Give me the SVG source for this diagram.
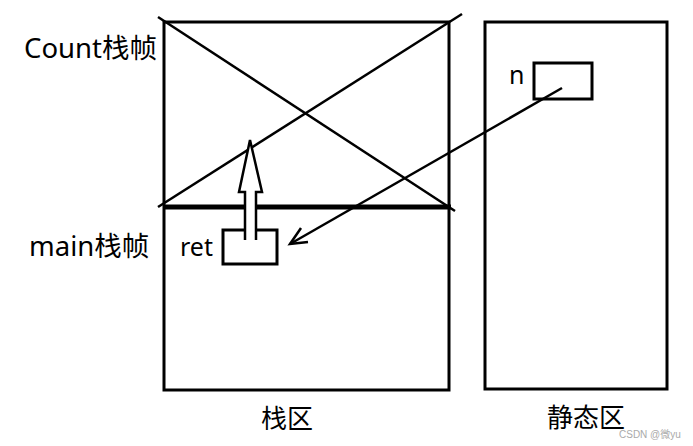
<svg xmlns="http://www.w3.org/2000/svg" width="693" height="446" viewBox="0 0 693 446">
<style>
.box{fill:none;stroke:#000;stroke-width:3}
.ln{stroke:#000;stroke-width:2.5;fill:none}
.lbl{font-family:"Noto Sans","Noto Sans CJK SC",sans-serif;font-size:26px;fill:#000}
.big{font-size:27.5px}
.wm{font-family:"Liberation Sans","Noto Sans CJK SC",sans-serif;font-size:10px;fill:#aaa}
</style>
<rect width="693" height="446" fill="#fff"/>
<g id="stack">
<rect class="box" x="164" y="22" width="285" height="368"/>
<text class="lbl" x="261" y="428">栈区</text>
</g>
<g id="count-frame">
<line class="ln" x1="158" y1="17" x2="455" y2="211"/>
<line class="ln" x1="462" y1="14" x2="158" y2="207"/>
<line x1="164" y1="207" x2="451" y2="207" stroke="#000" stroke-width="5"/>
<text class="lbl big" x="24" y="58">Count栈帧</text>
</g>
<g id="main-frame">
<text class="lbl big" x="29" y="256">main栈帧</text>
</g>
<g id="ret">
<rect class="box" x="223" y="230" width="54" height="34"/>
<text class="lbl" x="180" y="256" style="font-size:25px">ret</text>
</g>
<g id="static">
<rect class="box" x="485" y="22" width="182" height="367"/>
<text class="lbl" x="547" y="427">静态区</text>
</g>
<g id="n">
<rect class="box" x="534" y="63" width="58" height="36"/>
<text class="lbl" x="509" y="84" style="font-size:25px">n</text>
</g>
<g id="connectors">
<path d="M245,240 V192 H239 L250,140 L262,192 H256 V240" fill="#fff" stroke="#000" stroke-width="2.5" stroke-linejoin="miter"/>
<line class="ln" x1="562" y1="88" x2="290" y2="244"/>
<polyline class="ln" points="301,228 290,244 308,242"/>
</g>
<text class="wm" x="619" y="438">CSDN @微yu</text>
</svg>
